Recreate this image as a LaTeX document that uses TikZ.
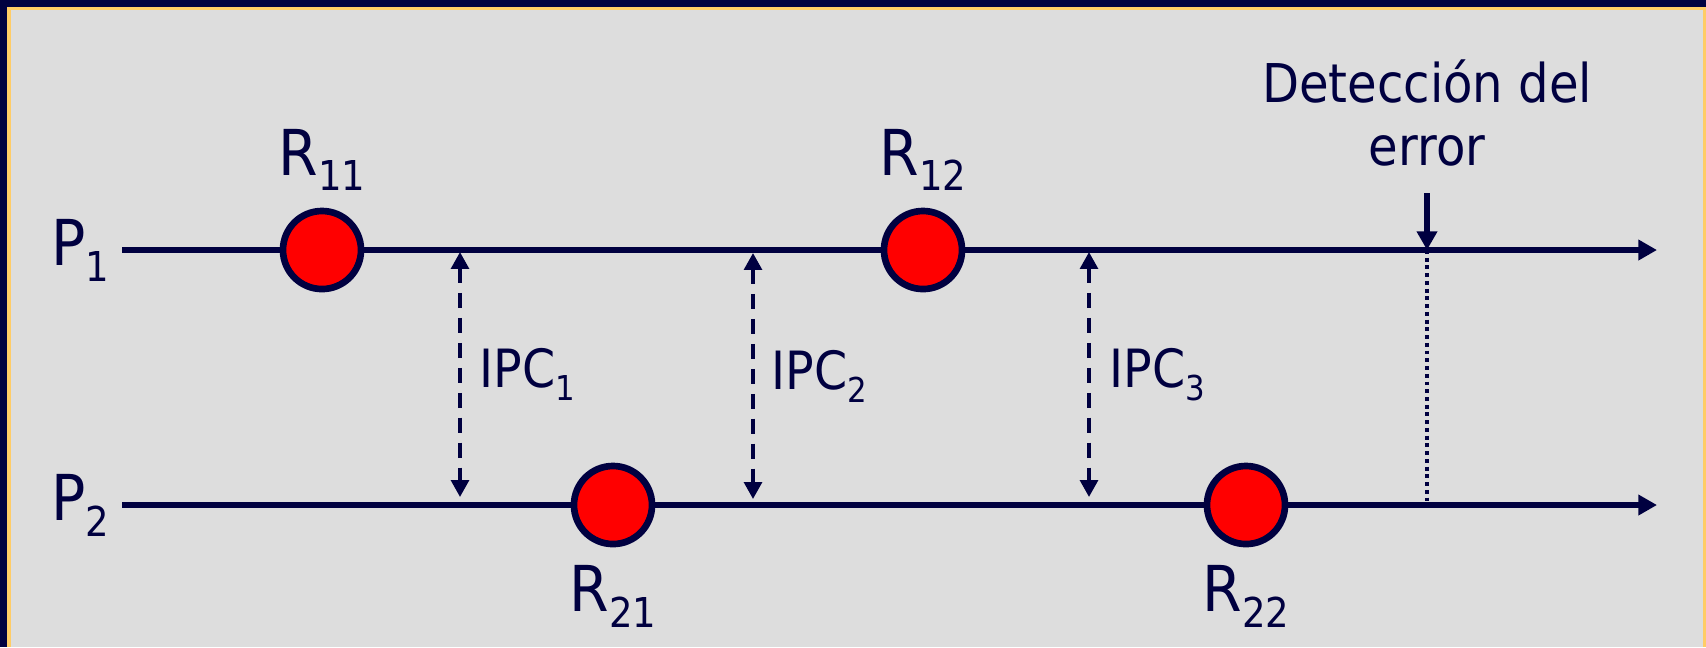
\documentclass[tikz,border=0pt]{standalone}
\usepackage{fontspec}
\setmainfont{DejaVu Sans Condensed}
\usetikzlibrary{arrows.meta,positioning}
\definecolor{Navy}{HTML}{000040}
\definecolor{Frame}{HTML}{FFCC66}
\definecolor{Slide}{HTML}{DDDDDD}
\definecolor{Mark}{HTML}{FF0000}
\newcommand{\idx}[1]{\raisebox{-0.25em}{\scalebox{0.65}{#1}}}
\tikzset{
  procline/.style={-{Triangle[length=5.3pt,width=5.6pt]}, line width=1.7pt, draw=Navy},
  recpoint/.style={
    circle, draw=Navy, line width=1.9pt, fill=Mark,
    minimum size=0.78cm, inner sep=0pt
  },
  bigtext/.style={inner sep=0pt, text=Navy, font=\fontsize{18}{21}\selectfont},
  ipc/.style={
    {Triangle[length=4.8pt,width=5pt]}-{Triangle[length=4.8pt,width=5pt]},
    line width=1.1pt, draw=Navy, dash pattern=on 4.3pt off 2.8pt
  },
  ipclabel/.style={inner sep=0pt, text=Navy, font=\fontsize{15}{18}\selectfont},
  detlabel/.style={inner sep=0pt, text=Navy, align=center, font=\fontsize{15.2}{18}\selectfont},
  errmark/.style={-{Triangle[length=5.3pt,width=5.6pt]}, line width=1.5pt, draw=Navy},
  errline/.style={line width=1.1pt, draw=Navy, dash pattern=on 1.1pt off 1.1pt}
}
\begin{document}
\begin{tikzpicture}[x=0.01cm,y=-0.01cm]
  \useasboundingbox (0,0) rectangle (1706,647);
  \fill[Navy] (0,0) rectangle (1706,647);
  \fill[Frame] (7,7) rectangle (1706,647);
  \fill[Slide] (11,10) rectangle (1703,647);
  \coordinate (p1s) at (122,250); \coordinate (p1e) at (1657,250);
  \coordinate (p2s) at (122,505); \coordinate (p2e) at (1657,505);
  \coordinate (errtop) at (1427,193);
  \coordinate (erron1) at (1427,250); \coordinate (erron2) at (1427,505);
  \draw[errline] (erron1)--(erron2);
  \draw[procline] (p1s)--(p1e); \draw[procline] (p2s)--(p2e);
  \node[bigtext,left=0.12cm of p1s] (p1) {P\idx{1}};
  \node[bigtext,left=0.12cm of p2s] (p2) {P\idx{2}};
  \node[recpoint] (r11) at (322,250) {};
  \node[recpoint] (r12) at (923,250) {};
  \node[recpoint] (r21) at (613,505) {};
  \node[recpoint] (r22) at (1246,505) {};
  \node[bigtext,above=0.16cm of r11] (l11) {R\idx{11}};
  \node[bigtext,above=0.16cm of r12] (l12) {R\idx{12}};
  \node[bigtext,below=0.17cm of r21] (l21) {R\idx{21}};
  \node[bigtext,below=0.17cm of r22] (l22) {R\idx{22}};
  \coordinate (i1t) at (460,252); \coordinate (i1b) at (460,497);
  \coordinate (i2t) at (753,253); \coordinate (i2b) at (753,499);
  \coordinate (i3t) at (1089,252); \coordinate (i3b) at (1089,497);
  \draw[ipc] (i1t)--node[ipclabel,right=0.18cm] (ipc1) {IPC\idx{1}} (i1b);
  \draw[ipc] (i2t)--node[ipclabel,right=0.17cm] (ipc2) {IPC\idx{2}} (i2b);
  \draw[ipc] (i3t)--node[ipclabel,right=0.19cm] (ipc3) {IPC\idx{3}} (i3b);
  \draw[errmark] (errtop)--(erron1);
  \node[detlabel,above=0.26cm of errtop] (det) {Detección del\\error};
\end{tikzpicture}
\end{document}
